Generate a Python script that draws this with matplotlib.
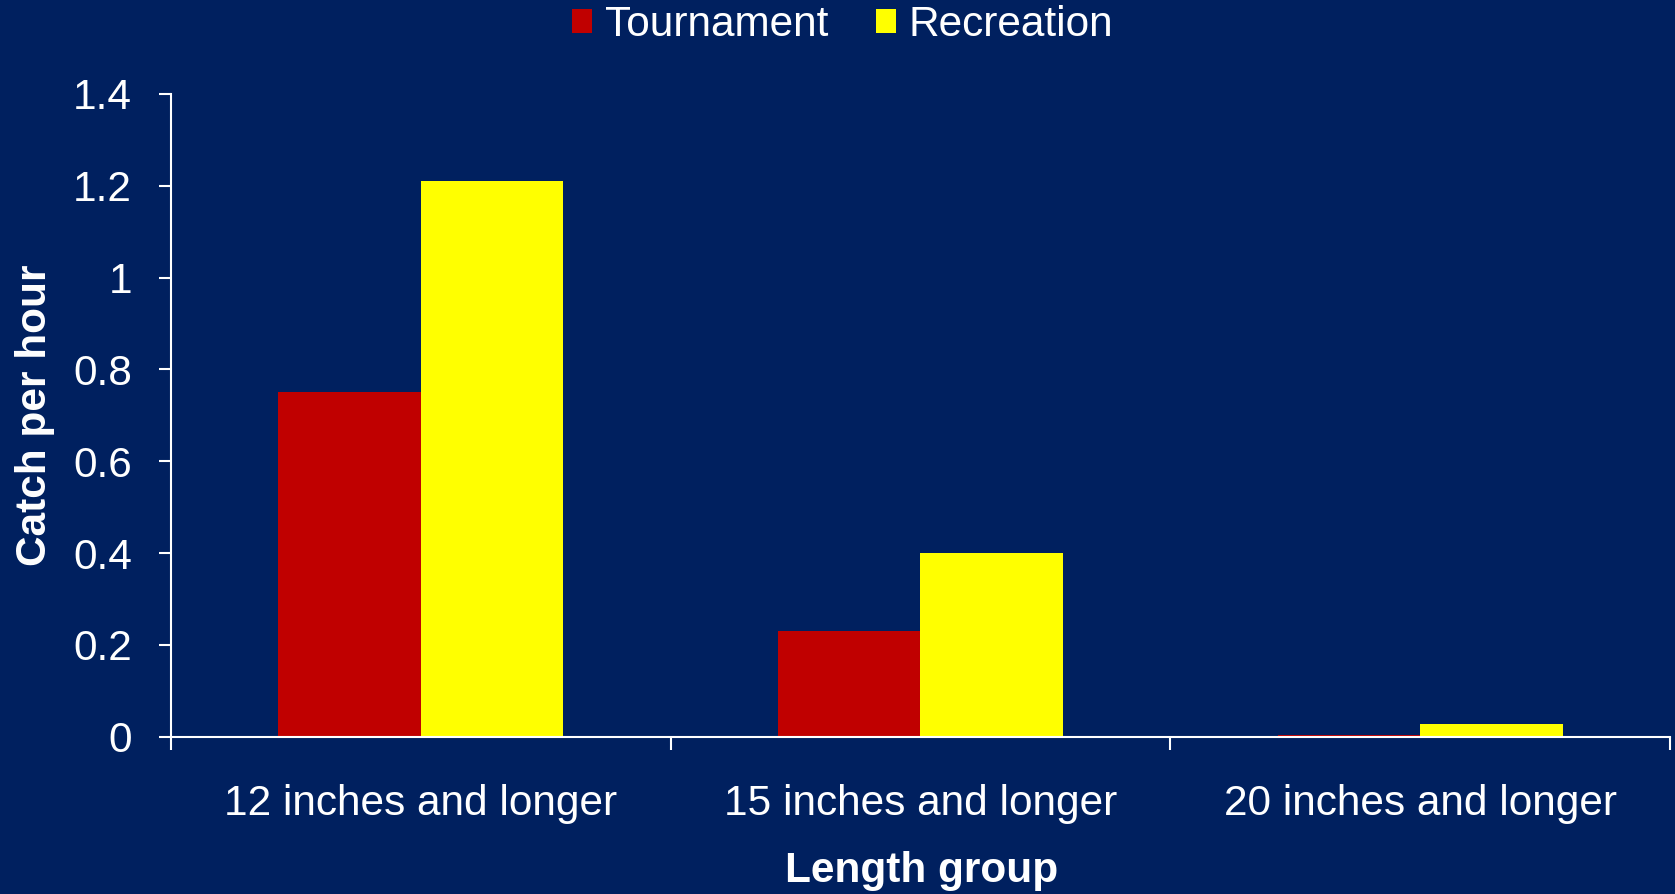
import matplotlib.pyplot as plt
import numpy as np

plt.rcParams['font.family'] = ['Liberation Sans', 'DejaVu Sans']

categories = ['12 inches and longer', '15 inches and longer', '20 inches and longer']
tournament = [0.75, 0.23, 0.003]
recreation = [1.21, 0.40, 0.028]
yticks = [0, 0.2, 0.4, 0.6, 0.8, 1, 1.2, 1.4]
ytick_labels = ['0', '0.2', '0.4', '0.6', '0.8', '1', '1.2', '1.4']

bg = '#00205F'
fs = 30.5
fig = plt.figure(figsize=(16.75, 8.94), dpi=100, facecolor=bg)
ax = fig.add_axes([0.102, 0.176, 0.895, 0.719])
ax.set_facecolor(bg)

x = np.arange(len(categories))
w = 0.285
ax.bar(x - w / 2, tournament, w, color='#C00000', label='Tournament')
ax.bar(x + w / 2, recreation, w, color='#FFFF00', label='Recreation')

ax.set_xlim(-0.5, len(categories) - 0.5)
ax.set_ylim(0, 1.4)
ax.set_yticks(yticks)
ax.set_yticklabels(ytick_labels)

# ticks sit between the groups, labels at the centres
ax.set_xticks(np.arange(len(categories) + 1) - 0.5)
ax.set_xticklabels([])
ax.set_xticks(x, minor=True)
ax.set_xticklabels(categories, minor=True)
ax.tick_params(axis='x', which='minor', length=0, pad=34, labelsize=fs, colors='white')
ax.tick_params(axis='x', which='major', length=9, width=1.5, color='white', direction='out')
ax.tick_params(axis='y', length=9, width=1.5, color='white', labelcolor='white',
               labelsize=fs, pad=19)

for s in ['top', 'right']:
    ax.spines[s].set_visible(False)
for s in ['left', 'bottom']:
    ax.spines[s].set_color('white')
    ax.spines[s].set_linewidth(1.5)

fig.text(0.021, 0.535, 'Catch per hour', rotation=90, ha='center', va='center',
         color='white', fontsize=fs, fontweight='bold')
fig.text(0.550, 0.026, 'Length group', ha='center', va='center',
         color='white', fontsize=fs, fontweight='bold')

leg = fig.legend(loc='center', bbox_to_anchor=(0.503, 0.972), ncol=2, frameon=False,
                 fontsize=fs, handlelength=0.47, handleheight=0.47, handletextpad=0.3,
                 columnspacing=1.13, labelcolor='white')

fig.savefig('out.png', dpi=100, facecolor=bg)
